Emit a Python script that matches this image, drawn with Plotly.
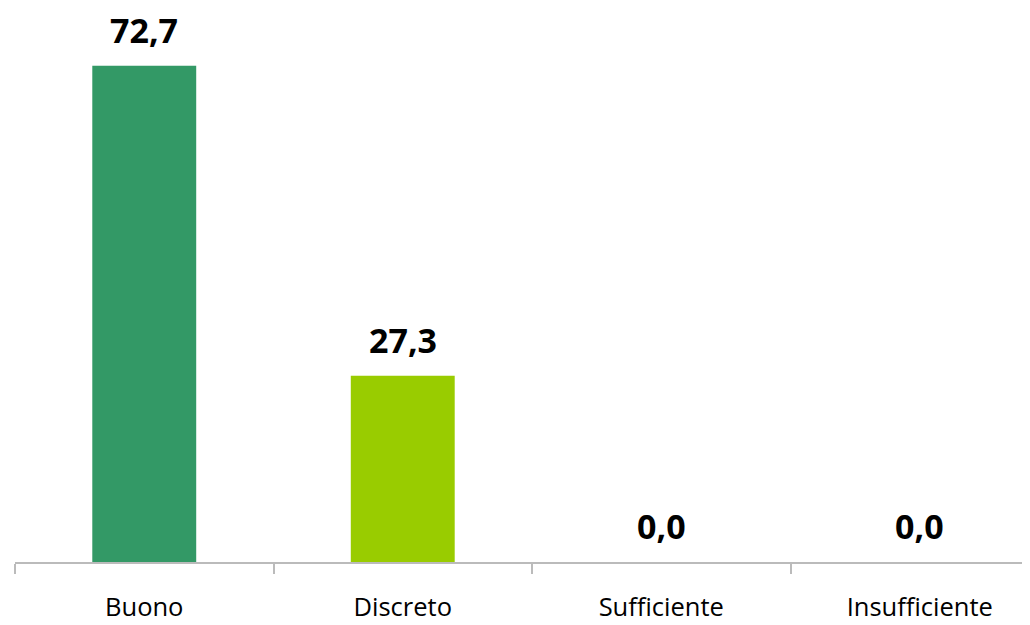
import plotly.graph_objects as go

categories = ["Buono", "Discreto", "Sufficiente", "Insufficiente"]
values = [72.7, 27.3, 0.0, 0.0]
labels = ["72,7", "27,3", "0,0", "0,0"]
colors = ["#339966", "#99CC00", "#FF9900", "#FF0000"]

fig = go.Figure()
fig.add_trace(go.Bar(
    x=categories, y=values, marker=dict(color=colors, line=dict(width=0)),
    width=0.402, hoverinfo="skip", showlegend=False,
))
for c, v, t in zip(categories, values, labels):
    fig.add_annotation(x=c, y=v, text=t, showarrow=False, yanchor="bottom",
                       yshift=12, borderpad=0,
                       font=dict(family="Open Sans", size=34, color="black", weight="bold"))

fig.update_layout(
    width=1022, height=617,
    margin=dict(l=7, r=0, t=8, b=63),
    paper_bgcolor="white", plot_bgcolor="white",
    font=dict(family="Open Sans", color="black"),
    xaxis=dict(
        type="category", range=[-0.5, 3.4265],
        tickson="boundaries", ticks="outside", ticklen=10, tickcolor="#BBBBBB", tickwidth=1.5,
        showline=True, linecolor="#BBBBBB", linewidth=1.5,
        showgrid=False, tickfont=dict(size=25.5, color="black"),
        ticklabelstandoff=22, automargin=False,
    ),
    yaxis=dict(range=[0, 80], visible=False, showgrid=False, zeroline=False),
)
fig.write_html("out.html")
